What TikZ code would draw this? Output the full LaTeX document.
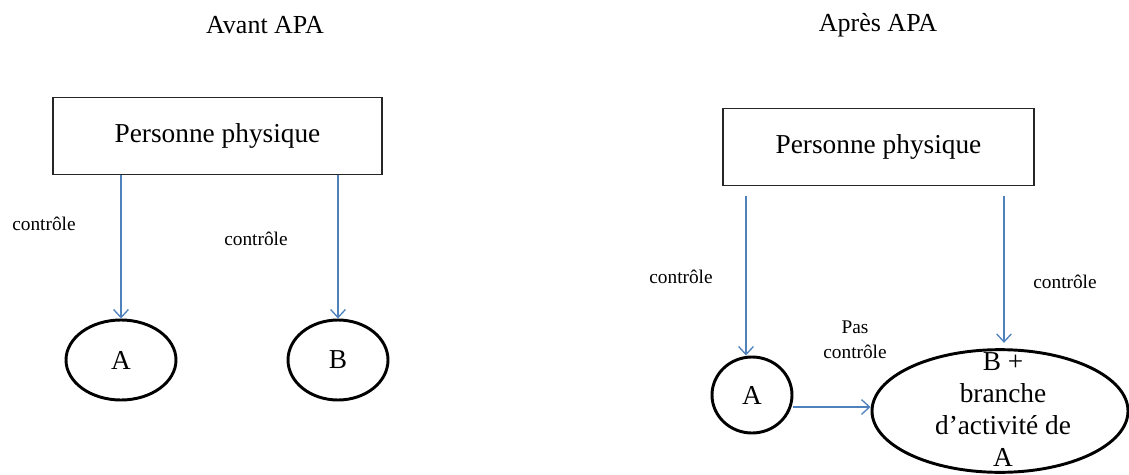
\documentclass[tikz,border=0pt]{standalone}
\usepackage{fontspec}
\setmainfont{Liberation Serif}
\usetikzlibrary{shapes.geometric,arrows.meta}
\definecolor{ctrlblue}{RGB}{79,129,189}

\tikzset{every picture/.style={line width=0.75pt}}

\begin{document}
\begin{tikzpicture}[x=0.75pt,y=0.75pt,yscale=-1,xscale=1,
	personbox/.style={draw=black!85,line width=1pt,minimum width=#1,minimum height=58pt,inner sep=0pt,font=\fontsize{20.5}{24}\selectfont},
	entity/.style={draw,ellipse,line width=2.2pt,inner sep=0pt,font=\fontsize{20.5}{24}\selectfont},
	ctrl/.style={draw=ctrlblue,line width=1pt,-{Straight Barb[length=6pt,width=11pt]}},
	lbl/.style={inner sep=0pt,font=\fontsize{14.5}{19}\selectfont,align=center},
	title/.style={inner sep=0pt,font=\fontsize{19.5}{24}\selectfont}]
	\useasboundingbox (0,0) rectangle (1129,475);

	% Avant APA
	\node[title] (tavant) at (265,25) {Avant APA};
	\node[personbox=246.75pt] (pp1) at (217.5,136) {Personne physique};
	\node[entity,minimum width=82.5pt,minimum height=60pt] (a1) at (121,360) {A};
	\node[entity,minimum width=75pt,minimum height=60pt] (b1) at (338,360) {B};
	\draw[ctrl] (a1 |- pp1.south) -- (a1.north);
	\draw[ctrl] (b1 |- pp1.south) -- (b1.north);
	% Text Node
	\node[lbl] (c1) at (44,224) {contrôle};
	% Text Node
	\node[lbl] (c2) at (256,239) {contrôle};

	% Après APA
	\node[title] (tapres) at (878,25) {Après APA};
	\node[personbox=233.25pt] (pp2) at (878.5,147) {Personne physique};
	\node[entity,minimum width=60pt,minimum height=57pt] (a2) at (752,395) {A};
	\node[entity,minimum width=192pt,minimum height=92pt] (bplus) at (1000,411) {};
	\node[align=center,inner sep=0pt,font=\fontsize{20.5}{24}\selectfont] (bplustxt) at (1003,410) {B +\\branche\\d’activité de\\A};
	\draw[ctrl,shorten <=7.5pt] ([xshift=-4.5pt]a2.north |- pp2.south) -- ([xshift=-4.5pt]a2.north);
	\draw[ctrl,shorten <=7.5pt] ([xshift=3pt]bplus.north |- pp2.south) -- ([xshift=3pt,yshift=-4pt]bplus.north);
	\draw[ctrl] (a2.east |- 0,407) -- (bplus.west |- 0,407);
	% Text Node
	\node[lbl] (c3) at (681,277) {contrôle};
	% Text Node
	\node[lbl] (c4) at (1065,282) {contrôle};
	% Text Node
	\node[lbl] (pas) at (855,340) {Pas\\contrôle};

\end{tikzpicture}
\end{document}
